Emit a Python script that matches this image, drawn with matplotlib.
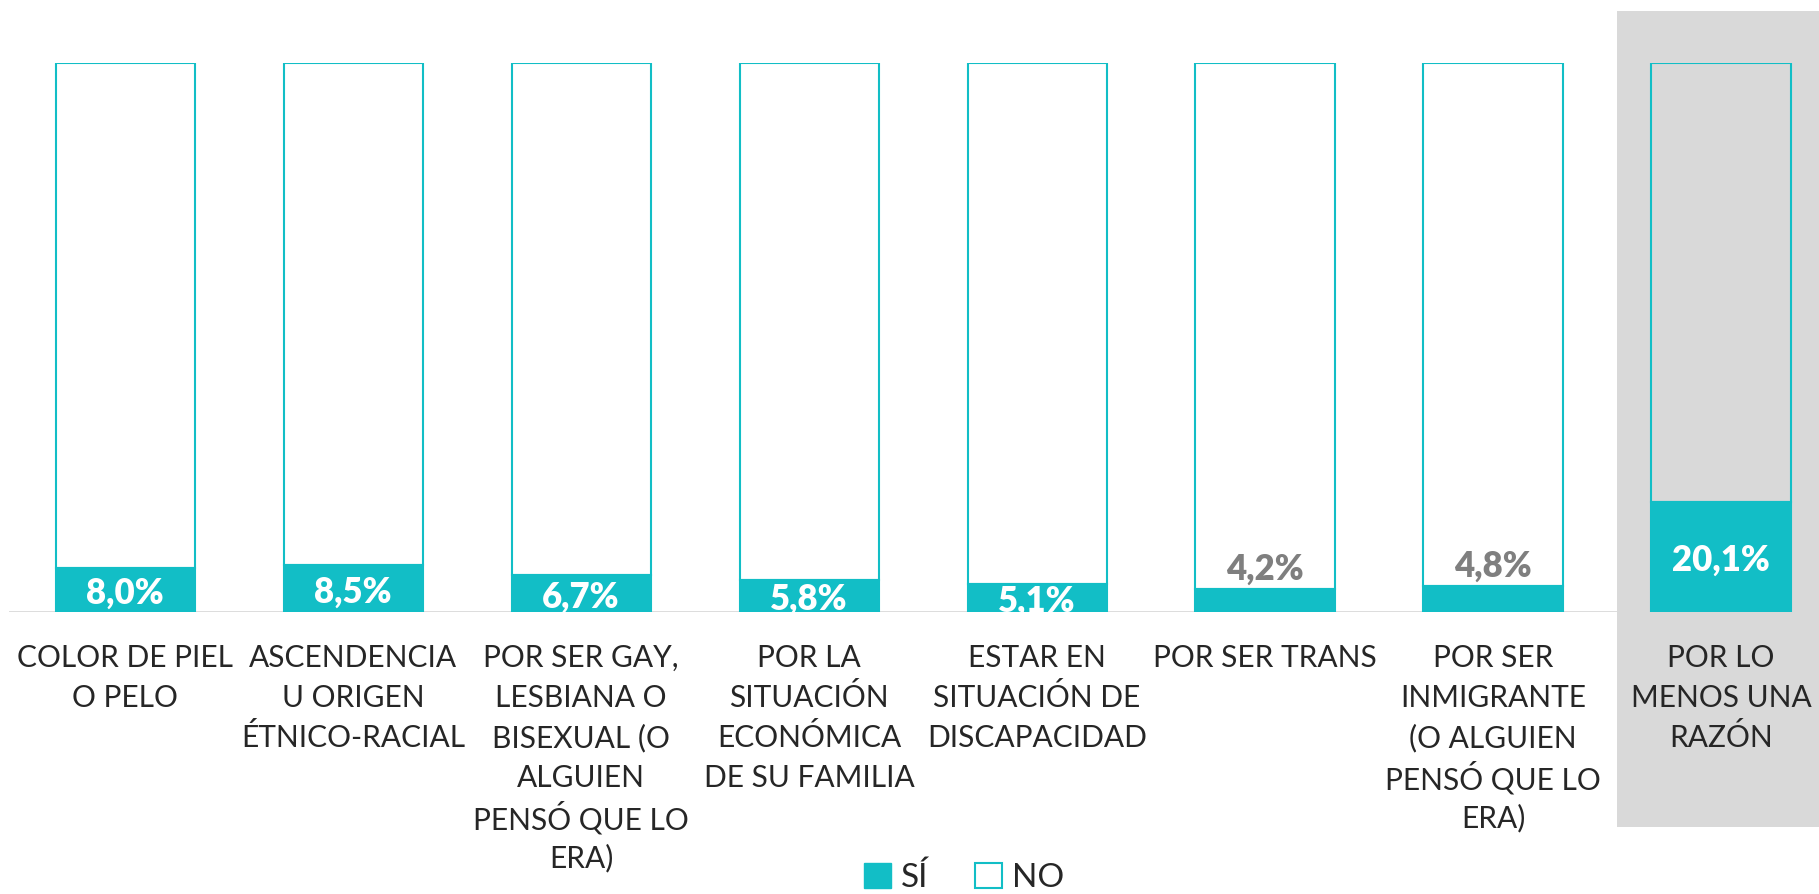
import numpy as np
import matplotlib
matplotlib.use('Agg')
import matplotlib.pyplot as plt
from matplotlib.patches import Patch, Rectangle
import matplotlib.transforms as mtransforms

categories = ['COLOR DE PIEL\nO PELO',
              'ASCENDENCIA\nU ORIGEN\nÉTNICO-RACIAL',
              'POR SER GAY,\nLESBIANA O\nBISEXUAL (O\nALGUIEN\nPENSÓ QUE LO\nERA)',
              'POR LA\nSITUACIÓN\nECONÓMICA\nDE SU FAMILIA',
              'ESTAR EN\nSITUACIÓN DE\nDISCAPACIDAD',
              'POR SER TRANS',
              'POR SER\nINMIGRANTE\n(O ALGUIEN\nPENSÓ QUE LO\nERA)',
              'POR LO\nMENOS UNA\nRAZÓN']
si = np.array([8.0, 8.5, 6.7, 5.8, 5.1, 4.2, 4.8, 20.1])
no = 100 - si
series_names = ['SÍ', 'NO']

teal = '#12bec6'
plt.rcParams['font.family'] = ['Lato', 'DejaVu Sans']

fig = plt.figure(figsize=(18.19, 8.94), dpi=100)
ax = fig.add_axes([0.005, 0.3154, 0.995, 0.6141])
ax.set_facecolor('none')

x = np.arange(len(categories))
w = 0.61

ax.bar(x, si, w, color=teal, edgecolor=teal, linewidth=1.5, zorder=3)
ax.bar(x, no, w, bottom=si, facecolor='none', edgecolor=teal, linewidth=1.5, zorder=3)

ax.axhline(0, color='#d9d9d9', linewidth=2, zorder=0.5)

# highlight box for the last category
trans = mtransforms.blended_transform_factory(ax.transData, ax.transAxes)
ax.add_patch(Rectangle((x[-1] - 0.456, -0.392), 1.0, 1.487, transform=trans,
                       facecolor='#d9d9d9', edgecolor='none', zorder=1, clip_on=False))

for xi, v in zip(x, si):
    label = f'{v:.1f}%'.replace('.', ',')
    if v < 5:
        ax.text(xi, v + 0.5, label, ha='center', va='bottom', color='#7f7f7f',
                fontsize=25, fontweight='heavy', zorder=4)
    else:
        ax.text(xi, v / 2 - 0.6, label, ha='center', va='center', color='white',
                fontsize=25, fontweight='heavy', zorder=4, clip_on=True)

# category labels, one line at a time so the spacing stays even
for xi, cat in zip(x, categories):
    for j, line in enumerate(cat.split('\n')):
        ax.annotate(line, (xi, 0), xytext=(0, -33 - j * 28.8), textcoords='offset points',
                    ha='center', va='center', fontsize=21.5, color='#262626', zorder=4)

ax.set_xlim(-0.509, 7.43)
ax.set_ylim(0, 100)
ax.set_xticks([])
ax.set_yticks([])
for s in ax.spines.values():
    s.set_visible(False)

handles = [Patch(facecolor=teal, edgecolor=teal),
           Patch(facecolor='white', edgecolor=teal, linewidth=1.5)]
fig.legend(handles, series_names, loc='center', bbox_to_anchor=(0.53, 0.018),
           ncol=2, frameon=False, fontsize=24, handlelength=0.8, handleheight=0.8,
           handletextpad=0.3, columnspacing=1.4, labelcolor='#262626',
           borderpad=0)

fig.savefig('out.png', dpi=100)
